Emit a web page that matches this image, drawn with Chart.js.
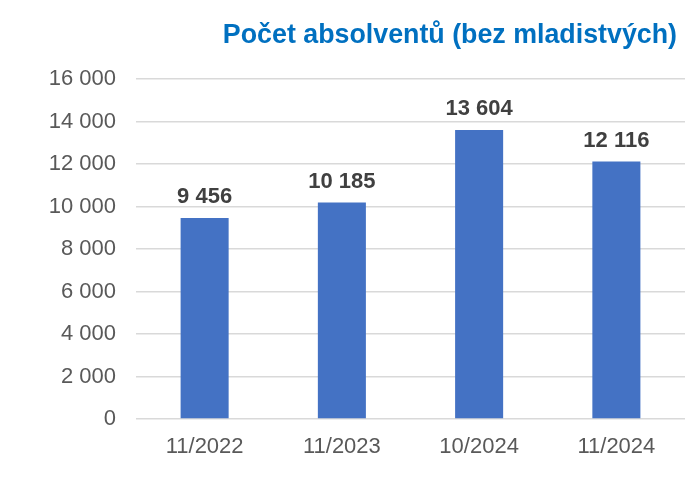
<!DOCTYPE html>
<html>
<head>
<meta charset="utf-8">
<script src="https://cdn.jsdelivr.net/npm/chart.js@4"></script>
<style>
  html, body { margin: 0; padding: 0; background: #fff; }
  #wrap { width: 692px; height: 477px; }
</style>
</head>
<body>
<div id="wrap"><canvas id="chart" width="692" height="477"></canvas></div>
<script>
const TITLE = 'Počet absolventů (bez mladistvých)';
const categories = ['11/2022', '11/2023', '10/2024', '11/2024'];
const graduates = [9456, 10185, 13604, 12116];
const yTicks = [0, 2000, 4000, 6000, 8000, 10000, 12000, 14000, 16000];

// 12116 -> "12 116"
function fmt(n) {
    return String(n).replace(/\B(?=(\d{3})+(?!\d))/g, ' ');
}

const titlePlugin = {
    id: 'cornerTitle',
    afterDraw(chart) {
        const ctx = chart.ctx;
        ctx.save();
        ctx.font = 'bold 26.8px "Liberation Sans", Arial, sans-serif';
        ctx.fillStyle = '#0070C0';
        ctx.textAlign = 'right';
        ctx.textBaseline = 'alphabetic';
        ctx.fillText(TITLE, 677, 43);
        ctx.restore();
    }
};

const valueLabels = {
    id: 'valueLabels',
    afterDatasetsDraw(chart) {
        const ctx = chart.ctx;
        const meta = chart.getDatasetMeta(0);
        ctx.save();
        ctx.font = 'bold 22px "Liberation Sans", Arial, sans-serif';
        ctx.fillStyle = '#404040';
        ctx.textAlign = 'center';
        ctx.textBaseline = 'middle';
        meta.data.forEach((bar, i) => {
            ctx.fillText(fmt(graduates[i]), bar.x, bar.y - 21);
        });
        ctx.restore();
    }
};

new Chart(document.getElementById('chart'), {
    type: 'bar',
    data: {
        labels: categories,
        datasets: [{
            data: graduates,
            backgroundColor: '#4472C4',
            barPercentage: 0.35,
            categoryPercentage: 1
        }]
    },
    options: {
        responsive: false,
        animation: false,
        layout: { padding: { top: 79, right: 7, left: 0, bottom: 0 } },
        plugins: { legend: { display: false }, tooltip: { enabled: false } },
        scales: {
            x: {
                grid: { display: false, drawTicks: false },
                border: { display: false },
                ticks: {
                    color: '#595959',
                    font: { family: '"Liberation Sans", Arial, sans-serif', size: 22 },
                    padding: 15
                },
                afterFit(axis) { axis.height = 58; }
            },
            y: {
                min: 0,
                max: 16000,
                afterBuildTicks(axis) { axis.ticks = yTicks.map(v => ({ value: v })); },
                grid: { color: '#D9D9D9', lineWidth: 1.5, drawTicks: false },
                border: { display: false },
                ticks: {
                    color: '#595959',
                    font: { family: '"Liberation Sans", Arial, sans-serif', size: 22 },
                    padding: 20,
                    callback: v => fmt(v)
                },
                afterFit(axis) { axis.width = 136; }
            }
        }
    },
    plugins: [titlePlugin, valueLabels]
});
</script>
</body>
</html>
